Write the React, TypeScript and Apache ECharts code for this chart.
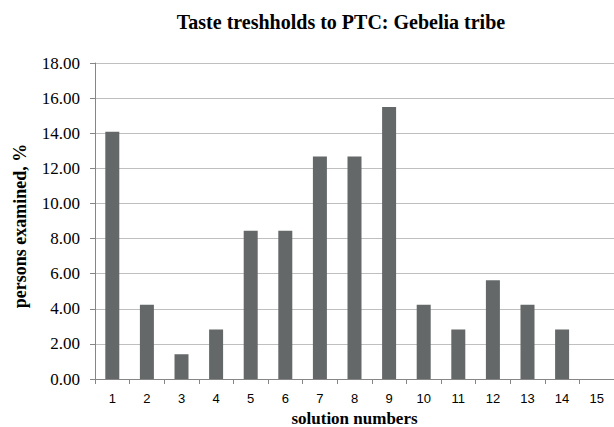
import React, { useEffect, useRef } from "react";
import * as echarts from "echarts";

const categories = ["1", "2", "3", "4", "5", "6", "7", "8", "9", "10", "11", "12", "13", "14", "15"];
const values = [14.08, 4.23, 1.41, 2.82, 8.45, 8.45, 12.68, 12.68, 15.49, 4.23, 2.82, 5.63, 4.23, 2.82, 0];

const serif = "'Liberation Serif', 'Times New Roman', serif";

export default function App() {
  const ref = useRef<HTMLDivElement>(null);
  useEffect(() => {
    if (!ref.current) return;
    const chart = echarts.init(ref.current, undefined, { renderer: "svg" });
    chart.setOption({
      animation: false,
      backgroundColor: "#ffffff",
      title: {
        text: "Taste treshholds to PTC: Gebelia tribe",
        left: 336,
        top: 7,
        textAlign: "center",
        textStyle: { fontFamily: serif, fontWeight: "bold", fontSize: 20, color: "#000" },
      },
      grid: { left: 95, right: 0, top: 63, bottom: 48, containLabel: false, outerBoundsMode: "none" },
      xAxis: {
        type: "category",
        data: categories,
        name: "solution numbers",
        nameLocation: "middle",
        nameGap: 30,
        nameTextStyle: { fontFamily: serif, fontWeight: "bold", fontSize: 17, color: "#000", lineHeight: 17 },
        axisLine: { lineStyle: { color: "#868686", width: 1 } },
        axisTick: { show: true, length: 5, lineStyle: { color: "#868686" } },
        axisLabel: { fontFamily: "'Liberation Sans', Arial, sans-serif", fontSize: 13, color: "#000", margin: 13 },
      },
      yAxis: {
        type: "value",
        min: 0,
        max: 18,
        interval: 2,
        name: "persons examined, %",
        nameLocation: "middle",
        nameGap: 66,
        nameTextStyle: { fontFamily: serif, fontWeight: "bold", fontSize: 18, color: "#000", padding: [0, 10, 0, 0] },
        axisLine: { show: true, lineStyle: { color: "#868686", width: 1 } },
        axisTick: { show: true, length: 5, lineStyle: { color: "#868686" } },
        axisLabel: {
          fontFamily: serif,
          fontSize: 17,
          color: "#000",
          margin: 15,
          formatter: (v: number) => v.toFixed(2),
        },
        splitLine: { show: true, lineStyle: { color: "#bfbfbf", width: 1 } },
      },
      series: [
        {
          type: "bar",
          data: values,
          barWidth: 14,
          itemStyle: { color: "#646868" },
        },
      ],
    });
    return () => chart.dispose();
  }, []);
  return (
    <div
      ref={ref}
      style={{ position: "fixed", left: 0, top: 0, width: 614, height: 427 }}
    />
  );
}
